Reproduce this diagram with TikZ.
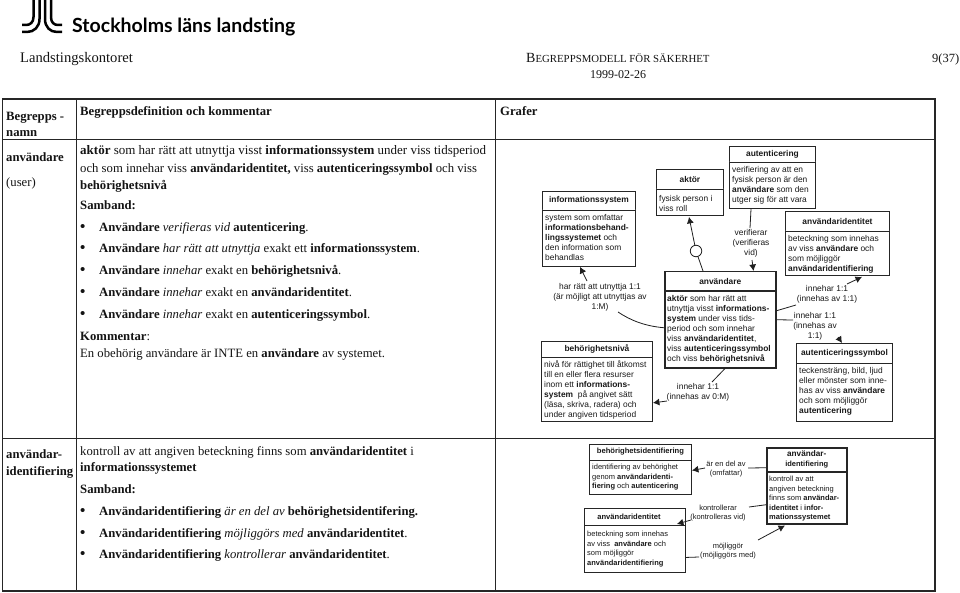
\documentclass[tikz,border=0pt]{standalone}
\usepackage{fontspec}
\setmainfont{Liberation Serif}
\setsansfont{Liberation Sans}
\newfontfamily\logofont[Ligatures=NoCommon]{Lato}
\usetikzlibrary{arrows.meta,calc}
\newcommand{\bodyfont}{\fontsize{12.7}{17}\selectfont}
\newcommand{\smallcapsize}{\fontsize{10.8}{12}\selectfont}
\newcommand{\erfont}{\sffamily\fontsize{8.4}{10}\selectfont}
\newcommand{\bodyoff}{4}
\tikzset{
  x=1pt,y=-1pt,
  serifline/.style={anchor=base west,inner sep=0pt,font=\bodyfont,text=black!92},
  bulletline/.style={serifline},
  tableline/.style={draw=black!85,line width=1pt},
  tableouter/.style={draw=black!85,line width=1.6pt},
  erframe/.style={draw=black!85,line width=0.9pt,fill=white,anchor=north west,inner sep=0pt},
  erthick/.style={line width=1.5pt},
  ertitle/.style={font=\erfont\bfseries,anchor=center,inner sep=0pt,align=center,text=black!90},
  erbody/.style={font=\erfont,anchor=north west,inner sep=0pt,align=left,text=black!90},
  erlabel/.style={font=\erfont,anchor=center,inner sep=0pt,align=center,text=black!90},
  conn/.style={draw=black!88,line width=0.8pt},
  head/.style={conn,-{Latex[length=6.5pt,width=7pt]}},
  logostroke/.style={draw=black,line width=2.5pt}
}
\newcommand{\erbox}[9]{%
  \node[erframe,#7,minimum width=#4 pt,minimum height=#5 pt] (#1) at (#2,#3) {};
  \draw[erframe,#7] ($(#1.north west)+(0,#6)$) -- ($(#1.north east)+(0,#6)$);
  \node[ertitle] (#1t) at ($(#1.north)+(0,#6/2)$) {#8};
  \node[erbody] (#1b) at ($(#1.north west)+(3,#6+\bodyoff)$) {#9};
}
\newcommand{\B}[1]{\textbf{#1}}
\newcommand{\I}[1]{\textit{#1}}
\newcommand{\bul}{\makebox[19pt][l]{\textbf{\fontsize{15}{17}\selectfont\textbullet}}}
\begin{document}
\begin{tikzpicture}
\useasboundingbox[fill=white] (0,0) rectangle (960,593);
% logo
\draw[logostroke] (33.5,0) -- (33.5,17) .. controls (33.5,22.5) and (30,25) .. (26,25) -- (22,25);
\draw[logostroke] (39.5,0) -- (39.5,19) .. controls (39.5,27) and (34,32) .. (27,32) -- (22,32);
\draw[logostroke] (45,0) -- (45,19) .. controls (45,27) and (50,32) .. (57,32) -- (62,32);
\draw[logostroke] (51,0) -- (51,17) .. controls (51,22.5) and (54,25) .. (58,25) -- (62,25);
\node[anchor=base west,inner sep=0pt,font=\logofont\bfseries\fontsize{19.5}{22}\selectfont] (logotext) at (72,33) {Stockholms läns landsting};
% page header
\node[serifline] (hleft) at (20,63) {\fontsize{14.6}{17}\selectfont Landstingskontoret};
\node[serifline] (hmid) at (526,63) {\fontsize{14}{17}\selectfont B{\smallcapsize EGREPPSMODELL FÖR SÄKERHET}};
\node[serifline,anchor=base] (hdate) at (618,79) {\fontsize{12}{14}\selectfont 1999-02-26};
\node[serifline] (hpage) at (932,63) {\fontsize{12.5}{14}\selectfont 9(37)};
% table
\draw[tableouter] (2.5,99) rectangle (935,591);
\draw[tableline] (2.5,140) -- (935,140);
\draw[tableline] (2.5,438) -- (935,438);
\draw[tableline] (76,99) -- (76,591);
\draw[tableline] (495.5,99) -- (495.5,591);
% header cells
\node[serifline] (c1a) at (6,121) {\B{Begrepps -}};
\node[serifline] (c1b) at (6,137) {\B{namn}};
\node[serifline] (c2) at (80,116) {\B{Begreppsdefinition och kommentar}};
\node[serifline] (c3) at (500,116) {\B{Grafer}};
% row 1
\node[serifline] (r1a) at (6,162) {\B{användare}};
\node[serifline] (r1b) at (6,187) {(user)};
\node[serifline] (d1) at (80,155) {\fontsize{13}{17}\selectfont\B{aktör} som har rätt att utnyttja visst \B{informationssystem} under viss tidsperiod};
\node[serifline] (d2) at (80,173) {och som innehar viss \B{användaridentitet,} viss \B{autenticeringssymbol} och viss};
\node[serifline] (d3) at (80,190) {\B{behörighetsnivå}};
\node[serifline] (d4) at (80,210) {\B{Samband:}};
\node[bulletline] (b1) at (80,232) {\bul\B{Användare} \I{verifieras vid} \B{autenticering}.};
\node[bulletline] (b2) at (80,253) {\bul\B{Användare} \I{har rätt att utnyttja} exakt ett \B{informationssystem}.};
\node[bulletline] (b3) at (80,275) {\bul\B{Användare} \I{innehar} exakt en \B{behörighetsnivå}.};
\node[bulletline] (b4) at (80,297) {\bul\B{Användare} \I{innehar} exakt en \B{användaridentitet}.};
\node[bulletline] (b5) at (80,319) {\bul\B{Användare} \I{innehar} exakt en \B{autenticeringssymbol}.};
\node[serifline] (k1) at (80,340) {\B{Kommentar}:};
\node[serifline] (k2) at (80,357) {En obehörig användare är INTE en \B{användare} av systemet.};
% row 2
\node[serifline] (r2a) at (6,458) {\B{användar-}};
\node[serifline] (r2b) at (6,475) {\B{identifiering}};
\node[serifline] (e1) at (80,455) {kontroll av att angiven beteckning finns som \B{användaridentitet} i};
\node[serifline] (e2) at (80,471) {\B{informationssystemet}};
\node[serifline] (e3) at (80,493) {\B{Samband:}};
\node[bulletline] (f1) at (80,515) {\bul\B{Användaridentifiering} \I{är en del av} \B{behörighetsidentifering.}};
\node[bulletline] (f2) at (80,537) {\bul\B{Användaridentifiering} \I{möjliggörs med} \B{användaridentitet}.};
\node[bulletline] (f3) at (80,558) {\bul\B{Användaridentifiering} \I{kontrollerar} \B{användaridentitet}.};
% ER boxes, upper graph
\erbox{info}{542}{191}{93}{75}{19}{}{informationssystem}{system som omfattar\\\B{informationsbehand-}\\\B{lingssystemet} och\\den information som\\behandlas}
\renewcommand{\bodyoff}{6}
\erbox{aktor}{656}{169}{67}{46}{20}{}{aktör}{fysisk person i\\viss roll}
\renewcommand{\bodyoff}{4}
\erbox{auth}{729}{146}{86}{62}{16}{}{autenticering}{verifiering av att en\\fysisk person är den\\\B{användare} som den\\utger sig för att vara}
\erbox{anv}{664}{271}{111}{96}{20}{erthick}{användare}{\B{aktör} som har rätt att\\utnyttja visst \B{informations-}\\\B{system} under viss tids-\\period och som innehar\\viss \B{användaridentitet},\\viss \B{autenticeringssymbol}\\och viss \B{behörighetsnivå}}
\erbox{beh}{541}{340.5}{111}{80.5}{16.5}{}{behörighetsnivå}{nivå för rättighet till åtkomst\\till en eller flera resurser\\inom ett \B{informations-}\\\B{system}\ \ på angivet sätt\\(läsa, skriva, radera) och\\under angiven tidsperiod}
\erbox{uid}{785}{211}{104}{64}{20}{}{användaridentitet}{beteckning som innehas\\av viss \B{användare} och\\som möjliggör\\\B{användaridentifiering}}
\erbox{sym}{796}{343}{96}{78}{20}{}{autenticeringssymbol}{teckensträng, bild, ljud\\eller mönster som inne-\\has av viss \B{användare}\\och som möjliggör\\\B{autenticering}}
% labels, upper graph
\node[erlabel] (l1) at (600,297) {har rätt att utnyttja 1:1\\(är möjligt att utnyttjas av\\1:M)};
\node[erlabel] (l2) at (698,392) {innehar 1:1\\(innehas av 0:M)};
\node[erlabel] (l3) at (751,243) {verifierar\\(verifieras\\vid)};
\node[erlabel] (l4) at (827,294) {innehar 1:1\\(innehas av 1:1)};
\node[erlabel] (l5) at (815,326) {innehar 1:1\\(innehas av\\1:1)};
% lower graph is set smaller
\renewcommand{\erfont}{\sffamily\fontsize{7.5}{9.5}\selectfont}
\erbox{bid}{589}{444}{102}{50}{16}{}{\fontsize{7.6}{9.5}\selectfont behörighetsidentifiering}{identifiering av behörighet\\genom \B{användaridenti-}\\\B{fiering} och \B{autenticering}}
\renewcommand{\bodyoff}{6}
\erbox{uidb}{584}{508}{101}{64}{17}{}{\fontsize{7.6}{9.5}\selectfont användaridentitet\hspace*{12pt}}{beteckning som innehas\\av viss\ \ \B{användare} och\\som möjliggör\\\B{användaridentifiering}}
\renewcommand{\bodyoff}{4}
\erbox{uident}{766}{447}{80}{76}{25}{erthick}{\fontsize{8.2}{10}\selectfont användar-\\identifiering}{kontroll av att\\angiven beteckning\\finns som \B{användar-}\\\B{identitet} i \B{infor-}\\\B{mationssystemet}}
\node[erlabel] (l6) at (726,469) {är en del av\\(omfattar)};
\node[erlabel] (l7) at (718,513) {kontrollerar\\(kontrolleras vid)};
\node[erlabel] (l8) at (728,551) {möjliggör\\(möjliggörs med)};
% connector end points beside the labels
\coordinate (p1a) at (618,312); \coordinate (p1b) at (587,281);
\coordinate (p2a) at (712,382); \coordinate (p2b) at (667,401);
\coordinate (p3a) at (750,228); \coordinate (p3b) at (752,260);
\coordinate (p4a) at (796,305); \coordinate (p4b) at (847,284);
\coordinate (p5a) at (793,320); \coordinate (p5b) at (838,337);
\coordinate (p6a) at (748,468); \coordinate (p6b) at (705,468);
\coordinate (p7a) at (749,507); \coordinate (p7b) at (691,520);
\coordinate (p8a) at (699,557); \coordinate (p8b) at (758,540);
% aktor relation with ring
\node[draw=black!88,line width=0.8pt,circle,fill=white,minimum size=11.5pt,inner sep=0pt] (ring) at (696,251) {};
\draw[conn] ($(anv.north west)+(39,0)$) -- (ring);
\draw[head] (ring) -- ($(aktor.south west)+(33,1)$);
% connectors
\draw[conn] ($(anv.west)+(0,8)$) .. controls (644,326) and (630,320) .. (p1a);
\draw[head] (p1b) -- ($(info.south west)+(38,0)$);
\draw[conn] ($(anv.south west)+(61,0)$) -- (p2a);
\draw[head] (p2b) -- ($(beh.south east)+(0,-19)$);
\draw[conn] ($(auth.south west)+(22,0)$) -- (p3a);
\draw[head] (p3b) -- ($(anv.north east)+(-23,0)$);
\draw[conn] ($(anv.east)+(0,-9)$) -- (p4a);
\draw[head] (p4b) -- ($(uid.south west)+(77,1)$);
\draw[conn] ($(anv.east)+(0,0)$) -- (p5a);
\draw[head] (p5b) -- ($(sym.north west)+(46,0)$);
\draw[conn] ($(uident.west)+(0,-18)$) -- (p6a);
\draw[head] (p6b) -- ($(bid.east)+(0,1)$);
\draw[conn] ($(uident.west)+(0,19)$) -- (p7a);
\draw[head] (p7b) -- ($(uidb.north east)+(-9,16)$);
\draw[conn] ($(uidb.east)+(0,17)$) -- (p8a);
\draw[head] (p8b) -- ($(uident.south west)+(19,1)$);
\end{tikzpicture}
\end{document}
